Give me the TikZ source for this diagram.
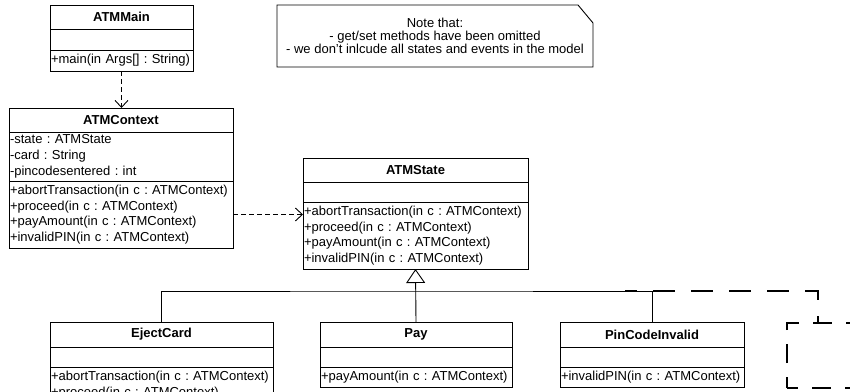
\documentclass[tikz,border=0pt]{standalone}
\usepackage{fontspec}
\setmainfont{Liberation Sans}
\usetikzlibrary{positioning,arrows.meta}
\newcommand\umlfont{\fontsize{13}{15.7}\selectfont\frenchspacing\hyphenpenalty=10000 }

\tikzset{
  umltitle/.style={draw, outer sep=0pt, inner sep=0pt, font=\umlfont\bfseries, minimum height=#1},
  umlpart/.style={draw, outer sep=0pt, inner xsep=1pt, inner ysep=0pt, align=left, minimum height=#1},
  dep/.style={dash pattern=on 5pt off 3pt, -{Straight Barb[length=7pt,width=13pt]}},
  gen/.style={-{Triangle[open,length=14pt,width=19pt]}},
  selbox/.style={line width=2.2pt, dash pattern=on #1},
}

\begin{document}
\begin{tikzpicture}[x=1pt, y=-1pt, line width=0.9pt, font=\umlfont]
\useasboundingbox (0,0) rectangle (850,391);

% ATMMain
\node[umltitle=24pt, minimum width=143pt, anchor=north west] (mainT) at (50,5) {ATMMain};
\node[umlpart=21pt, text width=141pt, below=0pt of mainT] (mainA) {};
\node[umlpart=21pt, text width=141pt, below=0pt of mainA] (mainM) {+main(in Args[] : String)};

% ATMContext
\node[umltitle=24pt, minimum width=224pt, anchor=north west] (ctxT) at (9,108) {ATMContext};
\node[umlpart=49pt, text width=222pt, below=0pt of ctxT] (ctxA)
  {-state : ATMState\\-card : String\\-pincodesentered : int};
\node[umlpart=67pt, text width=222pt, below=0pt of ctxA] (ctxM)
  {+abortTransaction(in c : ATMContext)\\+proceed(in c : ATMContext)\\+payAmount(in c : ATMContext)\\+invalidPIN(in c : ATMContext)};

% ATMState
\node[umltitle=24pt, minimum width=225pt, anchor=north west] (stateT) at (303,158) {ATMState};
\node[umlpart=20pt, text width=223pt, below=0pt of stateT] (stateA) {};
\node[umlpart=67pt, text width=223pt, below=0pt of stateA] (stateM)
  {+abortTransaction(in c : ATMContext)\\+proceed(in c : ATMContext)\\+payAmount(in c : ATMContext)\\+invalidPIN(in c : ATMContext)};

% the states
\node[umltitle=25pt, minimum width=223pt, anchor=north west] (ejectT) at (50,322) {EjectCard};
\node[umlpart=20pt, text width=221pt, below=0pt of ejectT] (ejectA) {};
\node[umlpart=67pt, text width=221pt, below=0pt of ejectA] (ejectM)
  {+abortTransaction(in c : ATMContext)\\+proceed(in c : ATMContext)\\+payAmount(in c : ATMContext)\\+invalidPIN(in c : ATMContext)};

\node[umltitle=25pt, minimum width=192pt, anchor=north west] (payT) at (320,322) {Pay};
\node[umlpart=20pt, text width=190pt, below=0pt of payT] (payA) {};
\node[umlpart=20pt, text width=190pt, below=0pt of payA] (payM) {+payAmount(in c : ATMContext)};

\node[umltitle=25pt, minimum width=184pt, anchor=north west] (pinT) at (560,322) {PinCodeInvalid};
\node[umlpart=20pt, text width=182pt, below=0pt of pinT] (pinA) {};
\node[umlpart=20pt, text width=182pt, below=0pt of pinA] (pinM) {+invalidPIN(in c : ATMContext)};

% note
\node[outer sep=0pt, minimum width=316pt, minimum height=62pt, align=center,
      font=\fontsize{13}{13.3}\selectfont] (note) at (435,36)
  {Note that:\\- get/set methods have been omitted\\- we don't inlcude all states and events in the model};
\draw (note.north west) -- ([xshift=-15pt]note.north east) -- ([yshift=-18pt]note.north east)
  -- (note.south east) -- (note.south west) -- cycle;

% dependencies
\draw[dep] (mainM.south) -- (mainM.south |- ctxT.north);
\draw[dep] (ctxM.east) -- (ctxM.east -| stateM.west);

% generalization
\coordinate (bus) at (416,291);
\draw (ejectT.north) |- (bus) -| (pinT.north);
\draw[gen] (payT.north) -- (stateM.south);

% dashed outline at the right
\draw[selbox={22pt off 16pt}, dash phase=10pt] (625,291) -- (818,291) -- (818,323);
\draw[selbox={19pt off 14pt}, dash phase=8pt] (787,388) -- (787,323) -- (870,323);
\draw[selbox={19pt off 14pt}, dash phase=8pt] (787,388) -- (870,388);
\end{tikzpicture}
\end{document}
